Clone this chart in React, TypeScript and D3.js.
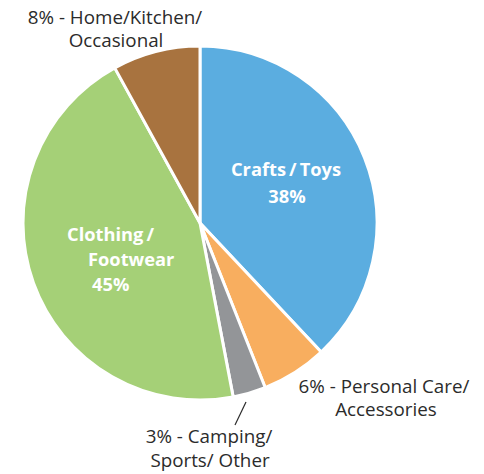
import React from "react";
import * as d3 from "d3";

const categories = ["Crafts/Toys", "Personal Care/Accessories", "Camping/Sports/Other", "Clothing/Footwear", "Home/Kitchen/Occasional"];
const values = [38, 6, 3, 45, 8];
const colors = ["#5BADE0", "#F8AE5F", "#939598", "#A5D077", "#A8733F"];

const W = 484, H = 474;
const cx = 200, cy = 223, R = 177;

export default function App() {
  const pie = d3.pie<number>().sort(null).value((d) => d)(values);
  const arc = d3.arc<d3.PieArcDatum<number>>().innerRadius(0).outerRadius(R);
  const font = "'Open Sans', 'Noto Sans', sans-serif";
  const outer = { fontFamily: font, fontSize: 18.8, fill: "#2b2b2b" } as const;
  const inner = { fontFamily: font, fontSize: 18.3, fill: "#ffffff", fontWeight: 700 } as const;
  return (
    <svg width={W} height={H} style={{ position: "absolute", left: 0, top: 0 }}>
      <g transform={`translate(${cx},${cy})`}>
        {pie.map((p, i) => (
          <path key={categories[i]} d={arc(p) || ""} fill={colors[i]} stroke="#fff" strokeWidth={3} strokeLinejoin="round" />
        ))}
      </g>
      <text {...inner} textAnchor="middle" x={286} y={176}>Crafts{"\u2009/\u2009"}Toys</text>
      <text {...inner} textAnchor="middle" x={287} y={203}>{values[0]}%</text>
      <text {...inner} x={67} y={241}>Clothing{"\u2009"}/</text>
      <text {...inner} x={88} y={266}>Footwear</text>
      <text {...inner} x={92} y={291}>{values[3]}%</text>
      <text {...outer} textAnchor="middle" x={115} y={24}>{values[4]}% - Home/Kitchen/</text>
      <text {...outer} textAnchor="middle" x={116} y={47}>Occasional</text>
      <text {...outer} textAnchor="middle" x={384} y={393}>{values[1]}% - Personal Care/</text>
      <text {...outer} textAnchor="middle" x={386} y={416}>Accessories</text>
      <text {...outer} textAnchor="middle" x={209} y={443}>{values[2]}% - Camping/</text>
      <text {...outer} textAnchor="middle" x={210} y={467}>Sports/ Other</text>
      <line x1={246} y1={402} x2={235} y2={425} stroke="#2b2b2b" strokeWidth={1.2} />
    </svg>
  );
}
